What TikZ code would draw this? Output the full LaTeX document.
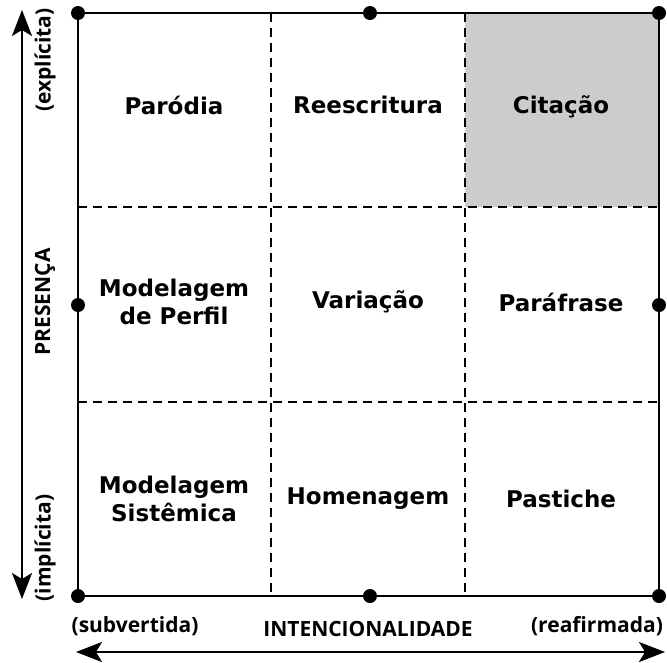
\documentclass[tikz,border=0pt]{standalone}
\usepackage{fontspec}
\setmainfont{DejaVu Sans}
\newfontfamily\axisfont{Open Sans}
\usepackage{tikz}
\usetikzlibrary{arrows.meta}

\begin{document}
\begin{tikzpicture}[x=1pt, y=-1pt,
  cell/.style={font=\bfseries\fontsize{23}{28}\selectfont, align=center},
  axislabel/.style={font=\axisfont\bfseries\fontsize{21}{25}\selectfont},
  gridline/.style={line width=1.5pt, dash pattern=on 9pt off 6pt},
  frame/.style={line width=2.2pt},
  axisarrow/.style={line width=2.2pt, {Stealth[length=26pt,width=20pt,inset=6pt]}-{Stealth[length=26pt,width=20pt,inset=6pt]}},
  dot/.style={circle, fill=black, inner sep=0pt, minimum size=14pt}]

\useasboundingbox (0,0) rectangle (667,662);

\coordinate (nw) at (78,13);
\coordinate (ne) at (659,13);
\coordinate (sw) at (78,596);
\coordinate (se) at (659,596);

\fill [color=gray!40] (465,13) rectangle (659,207);

\draw [gridline] (271,13) -- (271,596);
\draw [gridline] (465,13) -- (465,596);
\draw [gridline] (78,207) -- (659,207);
\draw [gridline] (78,402) -- (659,402);

\draw [frame] (nw) -- (ne) -- (se) -- (sw) -- cycle;

\node [dot] (dnw) at (nw) {};
\node [dot] (dn)  at (370,13) {};
\node [dot] (dne) at (ne) {};
\node [dot] (de)  at (659,305) {};
\node [dot] (dse) at (se) {};
\node [dot] (ds)  at (370,596) {};
\node [dot] (dsw) at (sw) {};
\node [dot] (dw)  at (78,305) {};

\node [cell] (parodia)     at (174,105) {Paródia};
\node [cell] (reescritura) at (368,105) {Reescritura};
\node [cell] (citacao)     at (561,107) {Citação};
\node [cell] (perfil)      at (174,302) {Modelagem\\de Perfil};
\node [cell] (variacao)    at (368,302) {Variação};
\node [cell] (parafrase)   at (561,302) {Paráfrase};
\node [cell] (sistemica)   at (174,499) {Modelagem\\Sistêmica};
\node [cell] (homenagem)   at (368,499) {Homenagem};
\node [cell] (pastiche)    at (561,499) {Pastiche};

\coordinate (ytop) at (22,10);
\coordinate (ybot) at (22,599);
\draw [axisarrow] (ytop) -- (ybot);
\node [axislabel, rotate=90] (explicita) at (45,60)  {(explícita)};
\node [axislabel, rotate=90] (presenca)  at (45,302) {PRESENÇA};
\node [axislabel, rotate=90] (implicita) at (45,548) {(implícita)};

\coordinate (xleft)  at (76,652);
\coordinate (xright) at (665,652);
\draw [axisarrow] (xleft) -- (xright);
\node [axislabel] (subvertida) at (135,626) {(subvertida)};
\node [axislabel] (intencao)   at (368,629) {INTENCIONALIDADE};
\node [axislabel] (reafirmada) at (597,626) {(reafirmada)};

\end{tikzpicture}
\end{document}
